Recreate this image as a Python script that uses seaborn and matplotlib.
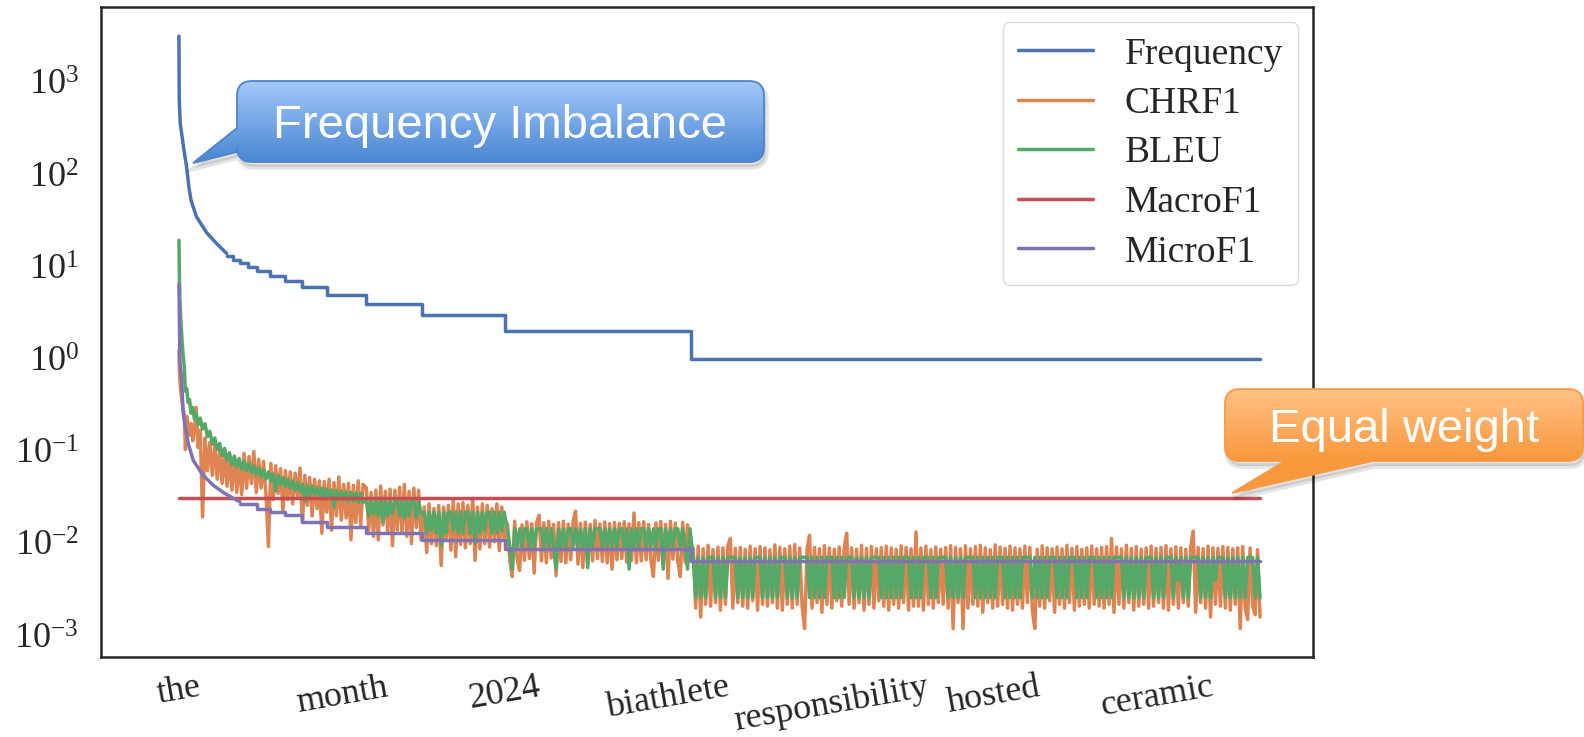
import numpy as np
import seaborn as sns
from matplotlib import pyplot as plt
from matplotlib.path import Path
from matplotlib.patches import PathPatch
from matplotlib.lines import Line2D
from matplotlib.ticker import NullLocator
from matplotlib.colors import LinearSegmentedColormap

# x axis: word rank, a few words shown as tick labels
words = ['the', 'month', '2024', 'biathlete', 'responsibility', 'hosted', 'ceramic']
word_ranks = [0, 1000, 2000, 3000, 4000, 5000, 6000]
last_rank = 6632
series_names = ['Frequency', 'CHRF1', 'BLEU', 'MacroF1', 'MicroF1']

# Frequency: smooth head, then integer levels (step changes)
freq_head_idx = [0, 1, 2, 8, 31, 47, 61, 74, 108, 170, 231, 293]
freq_head_val = [3190, 1480, 645, 361, 185, 122, 74, 53, 35, 23.6, 18, 14]
freq_step_idx = [293, 333, 374, 425, 480, 558, 650, 756, 906, 1147, 1493, 2000, 3141, last_rank]
freq_step_val = [13, 12, 11, 10, 9, 8, 7, 6, 5, 4, 3, 2, 1, 1]

# MicroF1 follows the same breakpoints
micro_head_idx = [0, 6, 17, 26, 57, 88, 149, 210, 282, 354, 374]
micro_head_val = [6.6, 0.97, 0.59, 0.258, 0.122, 0.080, 0.055, 0.043, 0.035, 0.0296, 0.0285]
micro_step_idx = [374, 480, 558, 650, 756, 906, 1147, 1493, 2000, 3141, last_rank]
micro_step_val = [0.0272, 0.0240, 0.0221, 0.0203, 0.0172, 0.0152, 0.0130, 0.0109, 0.0087, 0.00644, 0.00644]

macro_idx = [0, last_rank]
macro_val = [0.031, 0.031]

# noisy series, read in units of 1e-3
noisy_head_idx = [0, 3, 6, 10, 15, 20, 26, 33, 40, 48, 56, 65, 75, 85, 95, 105, 118, 131, 145, 160,
                  175, 190, 205, 220, 235, 250, 265, 280, 295, 310, 325, 340, 355, 370, 385]
region_bounds = [(400, 1130), (1150, 1485), (1505, 1995), (2015, 3135), (3155, last_rank)]

bleu_head = [19500, 8000, 4500, 3000, 2100, 1500, 1100, 820, 450, 480, 340, 365, 260, 300, 225, 262,
             195, 230, 175, 200, 145, 165, 120, 140, 105, 122, 90, 108, 80, 97, 72, 89, 68, 84, 64]
bleu_a = [78, 62, 74, 59, 70, 56, 66, 53, 63, 50, 60, 48, 57, 37, 55, 44, 52, 42, 50, 40,
          48, 38, 46, 37, 44, 29, 43, 34, 42, 34, 41, 33, 40, 32, 39, 31, 38, 25, 37.5, 30,
          37, 30, 36.5, 29, 36, 29, 35.5, 28, 35, 28]
bleu_b = [29, 20, 29, 21, 29, 20, 29, 17, 29, 20, 29, 21, 29, 29, 20, 29, 19, 29, 20, 29, 29, 19, 29, 21]
bleu_c = [22, 13, 22, 14, 22, 13, 22, 9.5, 22, 13, 22, 22, 14, 22, 13, 22, 13, 22, 22, 13,
          22, 10, 22, 13, 22, 14, 22, 22, 13, 22, 13, 22, 14, 22]
bleu_d = [14.5, 9.3, 5.3, 14.5, 9.3, 14.5, 9.3, 14.5, 14.5, 9.3, 14.5, 9.3, 14.5, 14.5, 14.5, 9.3, 14.5, 9.3, 14.5, 9.3,
          5.3, 14.5, 9.3, 14.5, 9.3, 14.5, 14.5, 9.3, 14.5, 9.3, 14.5, 9.3, 14.5, 5.5, 14.5, 9.3, 14.5, 14.5, 14.5, 9.3,
          14.5, 9.3, 14.5, 9.3, 14.5, 9.3, 14.5, 14.5, 9.3, 14.5, 5.3, 14.5, 9.3, 14.5, 9.3, 14.5, 14.5, 9.3, 14.5, 9.3,
          14.5, 9.3, 14.5, 14.5, 5.3, 14.5, 9.3, 14.5, 9.3, 14.5, 14.5, 9.3, 14.5, 9.3, 5.3, 14.5]
bleu_e = [7.1, 2.6, 7.1, 2.6, 7.1, 2.6, 7.1, 7.1, 7.1, 2.6, 7.1, 2.6, 7.1, 2.6, 7.1, 7.1, 7.1, 7.1, 2.6, 7.1,
          2.6, 7.1, 2.6, 7.1, 2.6, 7.1, 7.1, 7.1, 2.6, 7.1, 2.6, 7.1, 2.6, 7.1, 2.6, 7.1, 7.1, 7.1, 2.6, 7.1,
          2.6, 7.1, 2.6, 7.1, 7.1, 7.1, 7.1, 2.6, 7.1, 2.6, 7.1, 2.6, 7.1, 2.6, 7.1, 7.1, 7.1, 2.6, 7.1, 2.6,
          7.1, 2.6, 7.1, 7.1, 7.1, 2.6, 7.1, 2.6, 7.1, 2.6, 7.1, 2.6, 7.1, 7.1, 7.1, 7.1, 2.6, 7.1, 2.6, 7.1,
          2.6, 7.1, 2.6, 7.1, 2.6, 7.1, 7.1, 7.1, 2.6, 7.1, 2.6, 7.1, 2.6, 7.1, 7.1, 7.1, 2.6, 7.1, 2.6, 7.1,
          7.1, 7.1, 7.1, 2.6, 7.1, 2.6, 7.1, 2.6, 7.1, 2.6, 7.1, 7.1, 7.1, 7.1, 2.6, 7.1, 2.6, 7.1, 2.6, 7.1,
          2.6, 7.1, 2.6, 7.1, 7.1, 7.1, 2.6, 7.1, 2.6, 7.1, 2.6, 7.1, 2.6, 7.1, 7.1, 7.1, 7.1, 2.6, 7.1, 2.6,
          7.1, 2.6, 7.1, 2.6, 7.1, 7.1, 7.1, 2.6, 7.1, 2.6, 7.1, 2.6, 7.1, 7.1, 7.1, 2.6, 7.1, 2.6, 7.1, 2.6,
          7.1, 7.1, 7.1, 2.6, 7.1, 2.6, 7.1, 2.6, 7.1, 2.6, 7.1, 7.1, 7.1, 7.1, 2.6, 7.1, 2.6, 7.1, 2.6, 7.1,
          2.6, 7.1, 2.6, 7.1, 7.1, 7.1, 2.6, 7.1, 2.6, 7.1, 2.6, 7.1, 7.1, 7.1, 2.6, 7.1, 4.0, 7.1, 2.6, 7.1,
          2.6, 7.1, 7.1, 7.1, 7.1, 2.6, 7.1, 2.6, 7.1, 2.6, 7.1, 4.0, 7.1, 7.1, 7.1, 2.6, 7.1, 2.6, 7.1, 2.6,
          7.1, 2.6, 7.1, 2.6, 7.1, 7.1, 7.1, 2.6, 7.1, 2.6]

chrf_head = [1250, 800, 600, 480, 400, 340, 290, 250, 105, 240, 200, 150, 200, 130, 170, 300,
             110, 170, 19.5, 140, 62, 125, 55, 118, 50, 105, 45, 96, 42, 88, 38, 84, 36, 80, 34]
chrf_a = [95, 40, 88, 45, 100, 36, 82, 40, 78, 34, 9.3, 74, 30, 70, 35, 65, 22, 62, 30, 60,
          27, 58, 32, 66, 17, 55, 26, 52, 20, 50, 24, 48, 13, 47, 22, 50, 14, 46, 20, 53,
          18, 44, 19, 45, 11, 43, 17, 48, 16, 44]
chrf_b = [40, 14, 36, 12, 38, 11, 42, 16, 37, 13, 39, 9.5, 38, 14, 41, 13, 44, 12, 37, 10, 40, 15, 38, 11]
chrf_c = [25, 8.0, 27, 10, 24, 9.5, 26, 5.8, 25, 11, 26, 8.5, 30, 7.2, 27, 9.8, 28, 9, 26, 10,
          31, 6.6, 25, 8.8, 27, 10, 26, 9.2, 24, 10.5, 27, 8.4, 25, 11]
chrf_d = [16.5, 6.5, 4.4, 17.5, 6.8, 5.1, 16.0, 6.6, 17.2, 6.9, 16.4, 4.8, 17.0, 20.3, 6.5, 16.8, 6.2, 17.5, 7.0, 16.2,
          4.5, 16.9, 6.4, 17.5, 6.2, 16.3, 6.7, 17.4, 22.5, 6.0, 16.6, 5.5, 17.1, 6.8, 16.2, 6.5, 17.8, 6.9, 16.4, 6.4,
          17.2, 6.2, 16.5, 5.3, 17.0, 6.7, 16.6, 6.9, 17.3, 6.3, 16.4, 6.6, 21.5, 6.2, 16.9, 6.5, 17.3, 6.7, 16.1, 6.4,
          4.4, 16.8, 6.6, 17.4, 6.0, 16.2, 4.2, 17.5, 6.8, 16.7, 6.5, 4.4, 17.0, 6.3, 16.0, 6.6]
chrf_e = [9.0, 2.0, 9.4, 1.6, 8.8, 2.2, 9.6, 2.1, 8.6, 2.3, 9.2, 1.9, 9.0, 2.2, 9.5, 11.4, 2.0, 8.9, 2.3, 9.1,
          2.1, 8.7, 2.0, 9.4, 2.4, 8.8, 1.9, 9.3, 2.2, 9.0, 2.1, 8.6, 2.3, 9.7, 2.0, 9.1, 1.9, 8.8, 2.2, 9.4,
          2.0, 9.8, 2.2, 9.0, 2.1, 1.2, 8.9, 12.3, 2.0, 9.1, 2.3, 8.8, 1.8, 9.5, 2.2, 9.0, 2.0, 8.7, 2.4, 9.2,
          2.1, 9.0, 13.0, 2.2, 9.0, 2.0, 8.7, 2.3, 9.6, 1.9, 8.9, 2.2, 9.3, 2.0, 8.8, 2.4, 9.1, 2.1, 9.4, 1.9,
          9.0, 2.2, 8.7, 2.0, 9.5, 2.3, 9.1, 1.9, 8.8, 2.1, 13.4, 2.1, 9.0, 1.9, 9.4, 2.2, 8.6, 2.0, 9.2, 2.3,
          8.7, 2.2, 9.1, 2.0, 9.5, 1.2, 9.1, 2.3, 8.8, 1.2, 9.5, 2.0, 8.8, 2.2, 9.3, 2.1, 9.6, 1.8, 9.0, 2.3,
          8.6, 2.0, 9.7, 2.1, 9.2, 2.2, 8.9, 2.0, 9.4, 1.9, 9.0, 2.2, 8.8, 2.0, 9.4, 2.3, 9.1, 1.9, 1.2, 8.7,
          2.1, 9.5, 2.0, 9.0, 2.4, 8.8, 1.8, 9.2, 2.2, 8.8, 2.0, 9.6, 2.3, 8.9, 1.9, 9.3, 2.1, 8.7, 2.2, 9.0,
          2.0, 9.4, 2.2, 8.8, 2.1, 9.1, 2.0, 9.3, 2.2, 11.4, 1.8, 9.2, 2.2, 8.8, 2.0, 9.6, 2.3, 8.9, 1.9, 9.3,
          2.1, 8.7, 2.2, 9.0, 2.0, 9.4, 2.1, 8.9, 2.3, 9.1, 2.0, 9.5, 1.9, 8.8, 2.2, 9.2, 2.0, 9.0, 2.3, 8.7,
          2.1, 9.2, 13.6, 1.8, 9.1, 2.3, 8.8, 2.0, 9.4, 1.6, 9.0, 2.2, 8.9, 2.1, 9.3, 2.0, 9.1, 1.9, 8.8, 2.2,
          9.0, 1.2, 9.3, 2.0, 1.5, 9.0, 2.1, 1.7, 8.6, 1.6]


def noisy_series(head, regions):
    xs = [np.array(noisy_head_idx, dtype=float)]
    for (a, b), vals in zip(region_bounds, regions):
        xs.append(np.linspace(a, b, len(vals)))
    ys = np.concatenate([head] + regions) / 1000
    return np.concatenate(xs), ys


bleu_x, bleu_y = noisy_series(bleu_head, [bleu_a, bleu_b, bleu_c, bleu_d, bleu_e])
chrf_x, chrf_y = noisy_series(chrf_head, [chrf_a, chrf_b, chrf_c, chrf_d, chrf_e])

sns.set_theme(style='white')
plt.rcParams['font.family'] = ['Liberation Serif', 'DejaVu Serif']

W, H = 1584, 737
fig = plt.figure(figsize=(W / 100, H / 100), dpi=100)
ax = fig.add_axes([101 / W, 1 - 657 / H, (1313 - 101) / W, (657 - 7) / H])
ax.set_yscale('log')

blue, orange, green, red, purple = sns.color_palette('deep')[:5]
lw = 2.5
sns.lineplot(x=freq_head_idx, y=freq_head_val, ax=ax, color=blue, lw=lw, estimator=None)
sns.lineplot(x=freq_step_idx, y=freq_step_val, ax=ax, color=blue, lw=lw, estimator=None, drawstyle='steps-post')
sns.lineplot(x=chrf_x, y=chrf_y, ax=ax, color=orange, lw=lw, estimator=None)
sns.lineplot(x=bleu_x, y=bleu_y, ax=ax, color=green, lw=lw, estimator=None)
sns.lineplot(x=macro_idx, y=macro_val, ax=ax, color=red, lw=lw, estimator=None)
sns.lineplot(x=micro_head_idx, y=micro_head_val, ax=ax, color=purple, lw=lw, estimator=None)
sns.lineplot(x=micro_step_idx, y=micro_step_val, ax=ax, color=purple, lw=lw, estimator=None, drawstyle='steps-post')

ax.set_xlim(-478, 6957)
ax.set_ylim(5.9e-4, 6.6e3)
ax.set_yticks([10.0 ** k for k in range(-3, 4)])
ax.yaxis.set_minor_locator(NullLocator())
ax.set_xticks(word_ranks, labels=words, rotation=10)
ax.tick_params(axis='x', labelsize=26, pad=10, length=0)
ax.tick_params(axis='y', labelsize=26, pad=16, length=0)
ax.set_xlabel('')
ax.set_ylabel('')
for s in ax.spines.values():
    s.set_linewidth(1.8)
    s.set_color('#262626')

handles = [Line2D([0], [0], color=c, lw=lw) for c in [blue, orange, green, red, purple]]
ax.legend(handles, series_names, loc='upper right', fontsize=27, borderaxespad=0.4,
          handlelength=2.0, handletextpad=0.85, labelspacing=0.4, frameon=True, edgecolor='0.82')

# callout boxes drawn in figure pixels on an overlay
ov = fig.add_axes([0, 0, 1, 1], zorder=5)
ov.axis('off')


def callout(box, tail, side, top_col, bot_col, edge, text, tx, ty):
    x0, y0, x1, y1 = box
    r = 15
    verts = [(x0 + r, y0), (x1 - r, y0), (x1, y0), (x1, y0 + r), (x1, y1 - r), (x1, y1), (x1 - r, y1)]
    codes = [Path.MOVETO, Path.LINETO, Path.CURVE3, Path.CURVE3, Path.LINETO, Path.CURVE3, Path.CURVE3]
    if side == 'bottom':
        verts += tail
        codes += [Path.LINETO] * 3
    verts += [(x0 + r, y1), (x0, y1), (x0, y1 - r)]
    codes += [Path.LINETO, Path.CURVE3, Path.CURVE3]
    if side == 'left':
        verts += tail
        codes += [Path.LINETO] * 3
    verts += [(x0, y0 + r), (x0, y0), (x0 + r, y0), (x0 + r, y0)]
    codes += [Path.LINETO, Path.CURVE3, Path.CURVE3, Path.CLOSEPOLY]
    path = Path(verts, codes)

    shadow = Path(np.array(verts) + np.array([2, 5]), codes)
    ov.add_patch(PathPatch(shadow, facecolor='black', edgecolor='black', lw=4, alpha=0.10))

    patch = PathPatch(path, facecolor='none', edgecolor=edge, lw=1.3, zorder=3)
    ov.add_patch(patch)
    xs = [v[0] for v in verts]
    ys = [v[1] for v in verts]
    gy = np.linspace(min(ys), max(ys), 300)
    grad = np.clip((gy - y0) / (y1 - y0), 0, 1).reshape(-1, 1)
    cmap = LinearSegmentedColormap.from_list('grad', [top_col, bot_col])
    im = ov.imshow(grad, cmap=cmap, vmin=0, vmax=1, aspect='auto', origin='upper',
                   extent=[min(xs), max(xs), max(ys), min(ys)], zorder=2, interpolation='bilinear')
    im.set_clip_path(patch)
    ov.text(tx, ty, text, color='white', fontsize=34, family=['Liberation Sans', 'DejaVu Sans'],
            ha='center', va='baseline', zorder=4)


callout((237, 81, 764, 162), [(237, 152), (193, 163), (237, 128)], 'left',
        '#a3c8f9', '#4a86d2', '#4f84c8', 'Frequency Imbalance', 500, 138)
callout((1225, 389, 1583, 461), [(1373, 461), (1232, 493), (1285, 461)], 'bottom',
        '#ffc286', '#f8983c', '#f59a48', 'Equal weight', 1404, 442)
ov.set_xlim(0, W)
ov.set_ylim(H, 0)

plt.savefig('out.png', dpi=100)
